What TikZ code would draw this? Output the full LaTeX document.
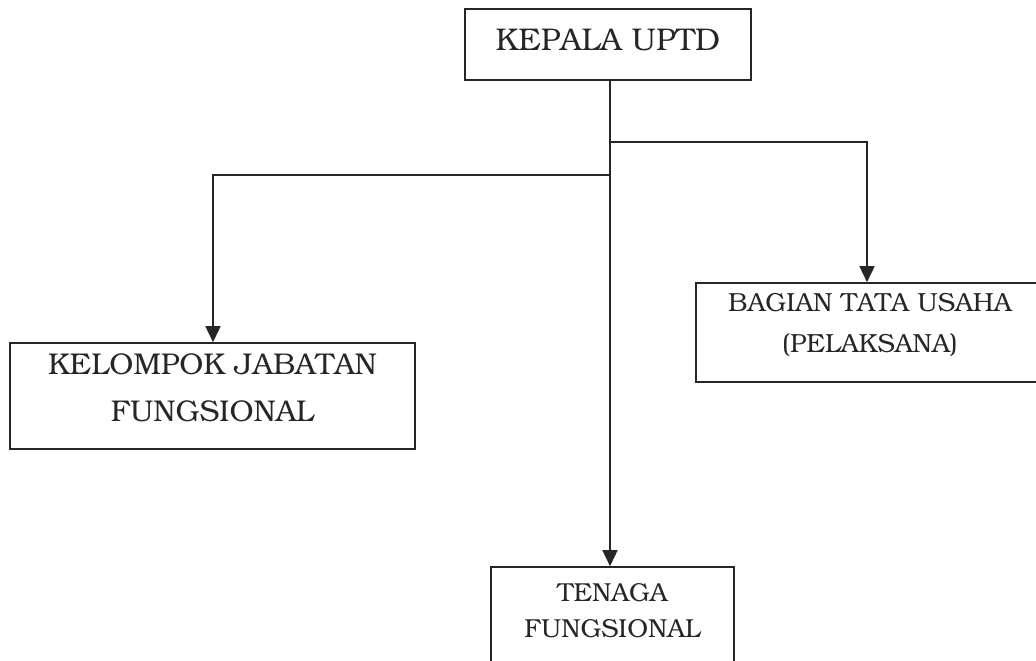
\documentclass[tikz,border=0pt]{standalone}
\usepackage[T1]{fontenc}
\usepackage{bookman}
\usetikzlibrary{arrows.meta}
\definecolor{ink}{HTML}{262626}
\begin{document}
\begin{tikzpicture}[x=1pt,y=-1pt,
  orgbox/.style={draw=ink, line width=1.6pt, rectangle, inner sep=0pt, align=center, text=ink},
  conn/.style={draw=ink, line width=1.6pt},
  arr/.style={conn, -{Triangle[length=16pt,width=15pt]}}]
\useasboundingbox (0,0) rectangle (1036,661);
\fill[white] (0,0) rectangle (1036,661);
\clip (0,0) rectangle (1036,661);

\node[orgbox, minimum width=286pt, minimum height=71pt, text depth=10pt,
      font=\fontsize{31.4}{38}\selectfont] (kepala) at (608,44.5) {KEPALA UPTD};

\node[orgbox, minimum width=405pt, minimum height=106pt, text depth=16pt,
      font=\fontsize{30}{47}\selectfont] (kelompok) at (212.5,396)
      {KELOMPOK JABATAN\\FUNGSIONAL};

\node[orgbox, minimum width=348pt, minimum height=99pt, text depth=19pt,
      font=\fontsize{26.2}{41}\selectfont] (bagian) at (870,332.5)
      {BAGIAN TATA USAHA\\(PELAKSANA)};

\node[orgbox, minimum width=243pt, minimum height=110pt, text depth=23pt,
      font=\fontsize{26}{36}\selectfont] (tenaga) at (612.5,622)
      {TENAGA\\FUNGSIONAL};

\coordinate (jr) at (610,142);
\coordinate (jl) at (610,175);

\draw[arr] (kepala.south -| jr) -- (tenaga.north -| jr);
\draw[arr] (jr) -| (bagian.north -| 867,0);
\draw[arr] (jl) -| (kelompok.north -| 213,0);
\end{tikzpicture}
\end{document}
